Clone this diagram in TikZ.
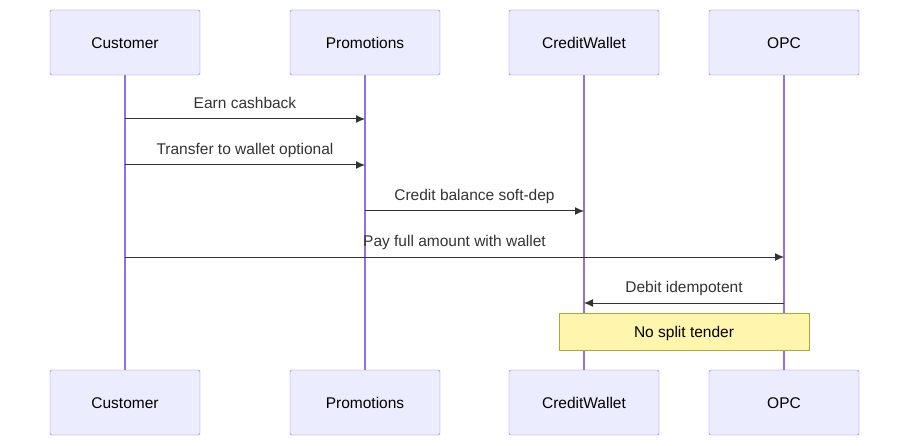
\documentclass[tikz,border=0pt]{standalone}
\usepackage{fontspec}
\setmainfont{Liberation Sans}
\usetikzlibrary{arrows.meta}
\definecolor{actfill}{HTML}{ECECFF}
\definecolor{actline}{HTML}{9370DB}
\definecolor{notefill}{HTML}{FFF5AD}
\definecolor{noteline}{HTML}{AAAA33}
\definecolor{msgline}{HTML}{333333}
\begin{document}
\begin{tikzpicture}[x=1pt, y=-1pt, font=\fontsize{15.5}{18}\selectfont]

% Styles for actors, lifelines, messages and the note
\tikzset{
  actor/.style={rectangle, draw=actline, fill=actfill, minimum width=150pt, minimum height=65pt, rounded corners=1.5pt, inner sep=0pt, text height=13pt, text depth=1pt},
  life/.style={draw=actline, line width=1.2pt},
  msg/.style={draw=msgline, line width=1pt, -{Latex[length=9pt,width=8pt]}},
  lbl/.style={above=4pt, text=msgline, text height=11pt, text depth=3pt},
  note/.style={rectangle, draw=noteline, fill=notefill, minimum width=250pt, minimum height=37pt, inner sep=0pt, text height=13pt, text depth=1pt}
}
\useasboundingbox (0,0) rectangle (909,446);

% Actors, top and bottom
\foreach \name/\txt/\x in {cust/Customer/125, promo/Promotions/365, wallet/CreditWallet/584, opc/OPC/784}{
  \node[actor] (\name-top) at (\x,42.5) {\txt};
  \node[actor] (\name-bot) at (\x,402.5) {\txt};
  \draw[life] (\name-top) -- (\name-bot);
}

% Message end points
\coordinate (c1) at (125,119); \coordinate (p1) at (365,119);
\coordinate (c2) at (125,165); \coordinate (p2) at (365,165);
\coordinate (p3) at (365,211); \coordinate (w3) at (584,211);
\coordinate (c4) at (125,257); \coordinate (o4) at (784,257);
\coordinate (o5) at (784,303); \coordinate (w5) at (584,303);

% Messages
\draw[msg] (c1) -- node[lbl] {Earn cashback} (p1);
\draw[msg] (c2) -- node[lbl] {Transfer to wallet optional} (p2);
\draw[msg] (p3) -- node[lbl] {Credit balance soft-dep} (w3);
\draw[msg] (c4) -- node[lbl] {Pay full amount with wallet} (o4);
\draw[msg] (o5) -- node[lbl] {Debit idempotent} (w5);

% Note
\node[note] (split) at (684,331.5) {No split tender};

\end{tikzpicture}
\end{document}
